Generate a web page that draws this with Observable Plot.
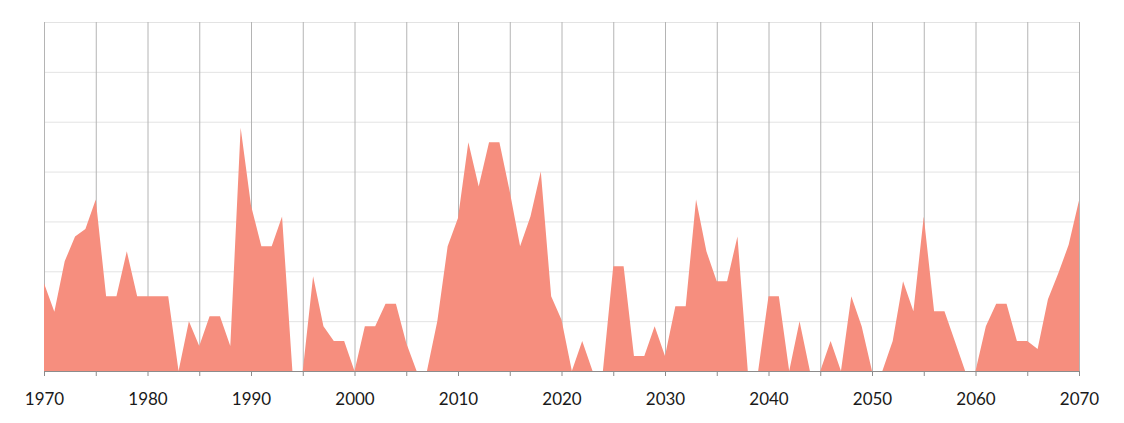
<!DOCTYPE html>
<html>
<head>
<meta charset="utf-8">
<script src="https://cdn.jsdelivr.net/npm/d3@7"></script>
<script src="https://cdn.jsdelivr.net/npm/@observablehq/plot@0.6"></script>
<style>
  html, body { margin: 0; padding: 0; background: #ffffff; }
  #chart svg { display: block; }
</style>
</head>
<body>
<div id="chart"></div>
<script>
const years = d3.range(1970, 2071);
const values = [
  17.6, 11.9, 22.0, 27.0, 28.5, 34.4, 15, 15, 24, 15,
  15, 15, 15, 0, 10, 5, 11, 11, 5, 48.8,
  33.2, 25, 25, 31, 0, 0, 19, 9, 6, 6,
  0, 9, 9, 13.5, 13.5, 5.6, 0, 0, 10, 25,
  30.7, 45.9, 37, 45.9, 45.9, 36, 25, 31, 40, 15,
  10.3, 0, 6, 0, 0, 21, 21, 3, 3, 9,
  3, 13, 13, 34.4, 24, 18, 18, 27, 0, 0,
  15, 15, 0, 10, 0, 0, 6, 0, 15, 9,
  0, 0, 6, 18, 12, 31, 12, 12, 6, 0,
  0, 9, 13.5, 13.5, 6, 6, 4.4, 14.4, 19.6, 25.3,
  34.2
];
const tickYears = d3.range(1970, 2071, 5);
const labelYears = d3.range(1970, 2071, 10);
const gridValues = d3.range(0, 71, 10);

const data = years.map((y, i) => ({year: y, value: values[i]}));

const chart = Plot.plot({
  width: 1124,
  height: 423,
  marginLeft: 44,
  marginRight: 45,
  marginTop: 22,
  marginBottom: 52,
  style: {fontFamily: "Lato, 'Open Sans', sans-serif", fontSize: "17px", background: "#ffffff", color: "#1a1a1a"},
  x: {domain: [1970, 2070]},
  y: {domain: [0, 70]},
  marks: [
    Plot.gridY(gridValues.filter(d => d > 0), {stroke: "#e3e3e3", strokeOpacity: 1, strokeWidth: 1}),
    Plot.gridX(tickYears, {stroke: "#b4b4b4", strokeOpacity: 1, strokeWidth: 1}),
    Plot.areaY(data, {x: "year", y: "value", fill: "#F68E7E", fillOpacity: 1}),
    Plot.axisX(tickYears, {
      tickSize: 5,
      tickPadding: 16,
      stroke: "#8c8c8c",
      tickFormat: d => (d % 10 === 0 ? String(d) : ""),
      fill: "#1a1a1a",
      label: null
    }),
    Plot.axisY({ticks: [], label: null}),
    Plot.ruleY([0], {stroke: "#8c8c8c", strokeWidth: 1})
  ]
});
document.getElementById("chart").appendChild(chart);
</script>
</body>
</html>
